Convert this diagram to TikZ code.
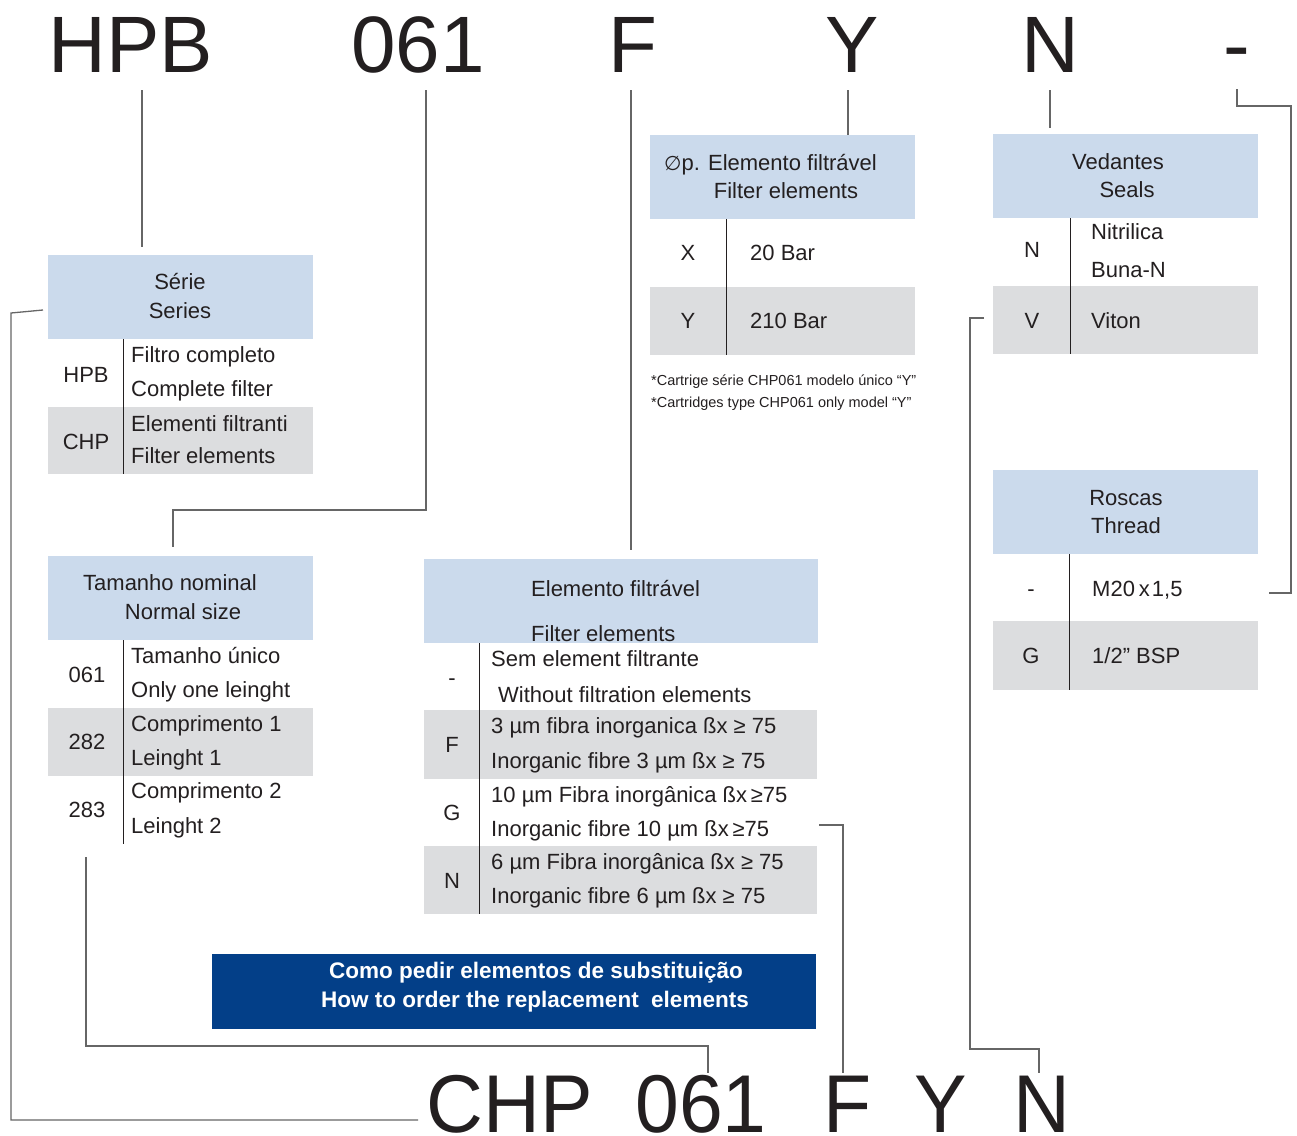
\documentclass[tikz,border=0pt]{standalone}
\usepackage{fontspec}
\setmainfont{Liberation Sans}
\newfontfamily\dejavu{DejaVu Sans}
\newfontfamily\bigcond[FakeStretch=0.96]{Liberation Sans}
\definecolor{hdr}{HTML}{CBDAEC}
\definecolor{rowg}{HTML}{DCDDDF}
\definecolor{navy}{HTML}{033F88}
\definecolor{ink}{HTML}{231F20}
\definecolor{connc}{HTML}{666666}
\tikzset{
 big/.style={font=\fontsize{80}{80}\selectfont, text=ink, inner sep=0, anchor=base},
 bigb/.style={font=\bigcond\fontsize{82}{82}\selectfont, text=ink, inner sep=0, anchor=base},
 txt/.style={font=\fontsize{22}{26}\selectfont, text=ink, inner sep=0, anchor=base west},
 ctxt/.style={font=\fontsize{22}{26}\selectfont, text=ink, inner sep=0, anchor=base},
 note/.style={font=\fontsize{14.5}{17}\selectfont, text=ink, inner sep=0, anchor=base west},
 btxt/.style={font=\fontsize{22.5}{26}\selectfont\bfseries, text=white, inner sep=0, anchor=base},
 hdrbox/.style={fill=hdr, draw=none, inner sep=0, anchor=north west},
 grayrow/.style={fill=rowg, draw=none, inner sep=0, anchor=north west},
 navybox/.style={fill=navy, draw=none, inner sep=0, anchor=north west},
 divider/.style={draw=ink, line width=1pt},
 connline/.style={draw=connc, line width=1.3pt},
}
\begin{document}
\begin{tikzpicture}[x=1pt,y=-1pt]
\useasboundingbox (0,0) rectangle (1297,1135);

% ---------- top code ----------
\node[big] (tHPB) at (131,72) {HPB};
\node[big] (t061) at (418,72) {061};
\node[big] (tF) at (633,72) {F};
\node[big] (tY) at (852,72) {Y};
\node[big] (tN) at (1050,72) {N};
\node[big] (tDash) at (1237,72) {-};

% ---------- Serie table ----------
\node[hdrbox, minimum width=265, minimum height=84] (serieH) at (48,255) {};
\node[grayrow, minimum width=265, minimum height=67] (serieR2) at (48,407) {};
\draw[divider] (123,339) coordinate (sDivA) -- (123,474) coordinate (sDivB);
\node[ctxt] (sH1) at (180,289) {Série};
\node[ctxt] (sH2) at (180,318) {Series};
\node[ctxt] (sC1) at (86,382) {HPB};
\node[ctxt] (sC2) at (86,449) {CHP};
\node[txt] (sT1) at (131,362) {Filtro completo};
\node[txt] (sT2) at (131,396) {Complete filter};
\node[txt] (sT3) at (131,431) {Elementi filtranti};
\node[txt] (sT4) at (131,463) {Filter elements};

% ---------- Tamanho table ----------
\node[hdrbox, minimum width=265, minimum height=84] (tamH) at (48,556) {};
\node[grayrow, minimum width=265, minimum height=68] (tamR2) at (48,708) {};
\draw[divider] (123,640) coordinate (tDivA) -- (123,844) coordinate (tDivB);
\node[ctxt] (tmH1) at (170,590) {Tamanho nominal};
\node[ctxt] (tmH2) at (183,619) {Normal size};
\node[ctxt] (tmC1) at (87,682) {061};
\node[ctxt] (tmC2) at (87,749) {282};
\node[ctxt] (tmC3) at (87,817) {283};
\node[txt] (tmT1) at (131,663) {Tamanho único};
\node[txt] (tmT2) at (131,697) {Only one leinght};
\node[txt] (tmT3) at (131,731) {Comprimento 1};
\node[txt] (tmT4) at (131,765) {Leinght 1};
\node[txt] (tmT5) at (131,798) {Comprimento 2};
\node[txt] (tmT6) at (131,833) {Leinght 2};

% ---------- Elemento filtravel table ----------
\node[hdrbox, minimum width=394, minimum height=84] (eleH) at (424,559) {};
\node[grayrow, minimum width=393, minimum height=69] (eleR2) at (424,710) {};
\node[grayrow, minimum width=393, minimum height=68] (eleR4) at (424,846) {};
\draw[divider] (479,643) coordinate (eDivA) -- (479,914) coordinate (eDivB);
\node[txt] (eH1) at (531,596) {Elemento filtrável};
\node[txt] (eH2) at (531,641) {Filter elements};
\node[ctxt] (eC1) at (452,685) {-};
\node[ctxt] (eC2) at (452,752) {F};
\node[ctxt] (eC3) at (452,820) {G};
\node[ctxt] (eC4) at (452,888) {N};
\node[txt] (eT1) at (491,666) {Sem element filtrante};
\node[txt] (eT2) at (498,702) {Without filtration elements};
\node[txt] (eT3) at (491,733) {3 µm fibra inorganica ßx ≥ 75};
\node[txt] (eT4) at (491,768) {Inorganic fibre 3 µm ßx ≥ 75};
\node[txt] (eT5) at (491,802) {10 µm Fibra inorgânica ßx\,≥75};
\node[txt] (eT6) at (491,836) {Inorganic fibre 10 µm ßx\,≥75};
\node[txt] (eT7) at (491,869) {6 µm Fibra inorgânica ßx ≥ 75};
\node[txt] (eT8) at (491,903) {Inorganic fibre 6 µm ßx ≥ 75};

% ---------- Pressure table ----------
\node[hdrbox, minimum width=265, minimum height=84] (prH) at (650,135) {};
\node[grayrow, minimum width=265, minimum height=68] (prR2) at (650,287) {};
\draw[divider] (726,219) coordinate (pDivA) -- (726,355) coordinate (pDivB);
\node[txt] (pH1) at (664,170) {{\dejavu\fontsize{20}{24}\selectfont ∅}p. Elemento filtrável};
\node[ctxt] (pH2) at (786,198) {Filter elements};
\node[ctxt] (pC1) at (688,260) {X};
\node[ctxt] (pC2) at (688,328) {Y};
\node[txt] (pT1) at (750,260) {20 Bar};
\node[txt] (pT2) at (750,328) {210 Bar};
\node[note] (pN1) at (651,385) {*Cartrige série CHP061 modelo único “Y”};
\node[note] (pN2) at (651,407) {*Cartridges type CHP061 only model “Y”};

% ---------- Vedantes table ----------
\node[hdrbox, minimum width=265, minimum height=84] (vedH) at (993,134) {};
\node[grayrow, minimum width=265, minimum height=68] (vedR2) at (993,286) {};
\draw[divider] (1070,218) coordinate (vDivA) -- (1070,354) coordinate (vDivB);
\node[ctxt] (vH1) at (1118,169) {Vedantes};
\node[ctxt] (vH2) at (1127,197) {Seals};
\node[ctxt] (vC1) at (1032,257) {N};
\node[ctxt] (vC2) at (1032,328) {V};
\node[txt] (vT1) at (1091,239) {Nitrilica};
\node[txt] (vT2) at (1091,277) {Buna-N};
\node[txt] (vT3) at (1091,328) {Viton};

% ---------- Roscas table ----------
\node[hdrbox, minimum width=265, minimum height=84] (rosH) at (993,470) {};
\node[grayrow, minimum width=265, minimum height=69] (rosR2) at (993,621) {};
\draw[divider] (1069,554) coordinate (rDivA) -- (1069,690) coordinate (rDivB);
\node[ctxt] (rH1) at (1126,505) {Roscas};
\node[ctxt] (rH2) at (1126,533) {Thread};
\node[ctxt] (rC1) at (1031,596) {-};
\node[ctxt] (rC2) at (1031,663) {G};
\node[txt] (rT1) at (1092,596) {M20\hspace{4pt}x\hspace{2pt}1,5};
\node[txt] (rT2) at (1092,663) {1/2” BSP};

% ---------- blue banner ----------
\node[navybox, minimum width=604, minimum height=75] (banner) at (212,954) {};
\node[btxt] (bn1) at (536,978) {Como pedir elementos de substituição};
\node[btxt] (bn2) at (535,1007) {How to order the replacement\ \ elements};

% ---------- bottom code ----------
\node[bigb] (bCHP) at (510,1132) {CHP};
\node[bigb] (b061) at (701,1132) {061};
\node[bigb] (bF) at (848,1132) {F};
\node[bigb] (bY) at (941,1132) {Y};
\node[bigb] (bN) at (1042,1132) {N};

% ---------- connectors ----------
\coordinate (cHPBa) at (142,90);   \coordinate (cHPBb) at (142,247);
\coordinate (c061a) at (426,90);   \coordinate (c061b) at (426,510);
\coordinate (c061c) at (173,510);  \coordinate (c061d) at (173,547);
\coordinate (cFa) at (631,90);     \coordinate (cFb) at (631,550);
\coordinate (cYa) at (848,90);     \coordinate (cYb) at (848,135);
\coordinate (cNa) at (1050,90);    \coordinate (cNb) at (1050,128);
\coordinate (cDa) at (1237,89);    \coordinate (cDb) at (1237,106);
\coordinate (cDc) at (1291,106);   \coordinate (cDd) at (1291,593);
\coordinate (cDe) at (1269,593);
\draw[connline] (cHPBa) -- (cHPBb);
\draw[connline] (c061a) -- (c061b) -- (c061c) -- (c061d);
\draw[connline] (cFa) -- (cFb);
\draw[connline] (cYa) -- (cYb);
\draw[connline] (cNa) -- (cNb);
\draw[connline] (cDa) -- (cDb) -- (cDc) -- (cDd) -- (cDe);

\coordinate (bSa) at (43,310);   \coordinate (bSb) at (11,313);
\coordinate (bSc) at (11,1120);  \coordinate (bSd) at (418,1120);
\coordinate (bTa) at (86,857);   \coordinate (bTb) at (86,1046);
\coordinate (bTc) at (708,1046); \coordinate (bTd) at (708,1073);
\coordinate (bGa) at (819,825);  \coordinate (bGb) at (843,825);
\coordinate (bGc) at (843,1073);
\coordinate (bVa) at (984,318);  \coordinate (bVb) at (970,318);
\coordinate (bVc) at (970,1049); \coordinate (bVd) at (1039,1049);
\coordinate (bVe) at (1039,1073);
\draw[connline] (bSa) -- (bSb) -- (bSc) -- (bSd);
\draw[connline] (bTa) -- (bTb) -- (bTc) -- (bTd);
\draw[connline] (bGa) -- (bGb) -- (bGc);
\draw[connline] (bVa) -- (bVb) -- (bVc) -- (bVd) -- (bVe);
\end{tikzpicture}
\end{document}
